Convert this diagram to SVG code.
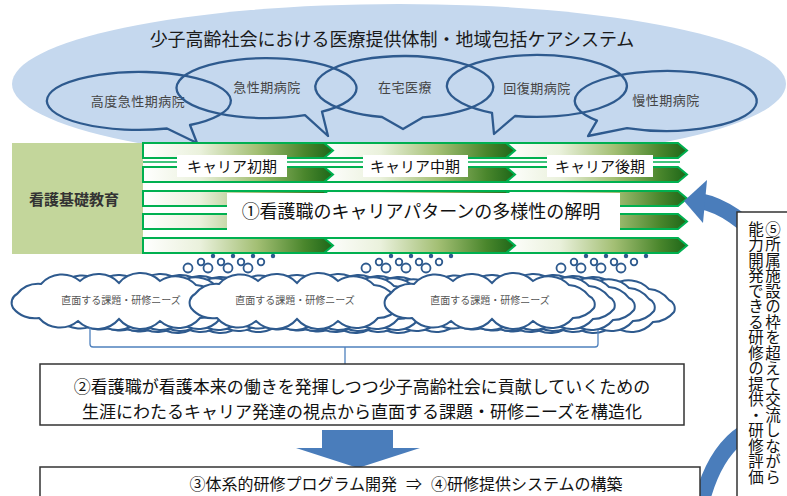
<svg xmlns="http://www.w3.org/2000/svg" width="787" height="496" viewBox="0 0 787 496">
<defs>
<linearGradient id="gr" x1="0" y1="0" x2="1" y2="0">
<stop offset="0" stop-color="#ffffff"/>
<stop offset="0.3" stop-color="#eaf1dc"/>
<stop offset="0.6" stop-color="#a3bf74"/>
<stop offset="0.85" stop-color="#4a862c"/>
<stop offset="1" stop-color="#1d6618"/>
</linearGradient>
<path id="cloud" d="M10,22 A28 28 0 0 1 34,12 A28 28 0 0 1 73,9 A28 28 0 0 1 112,11 A28 28 0 0 1 153,9 A28 28 0 0 1 189,13 A28 28 0 0 1 209,24 A9 9 0 0 1 214,36 A28 28 0 0 1 193,46 A28 28 0 0 1 153,49 A28 28 0 0 1 112,47 A28 28 0 0 1 71,49 A28 28 0 0 1 32,46 A28 28 0 0 1 6,36 A10 10 0 0 1 10,22 Z"/>
<style>
.jp{font-family:"Liberation Sans","Noto Sans CJK JP",sans-serif;}
.bub{fill:none;stroke:#2e5a8e;stroke-width:2.3;stroke-linejoin:round;}
.bt{font-size:13px;fill:#444;letter-spacing:0.5px;text-anchor:middle;dominant-baseline:central;}
.seg{fill:url(#gr);stroke:#00b050;stroke-width:2;}
.lab{fill:#fff;}
.lt{font-size:15px;fill:#111;text-anchor:middle;dominant-baseline:central;}
.cl{fill:#fff;stroke:#2e5a8e;stroke-width:2;}
.dot{fill:#fff;stroke:#2e5a8e;stroke-width:1.8;}
.ct{font-size:10px;fill:#555;text-anchor:middle;dominant-baseline:central;}
.box{fill:#fff;stroke:#333;stroke-width:1.5;}
.blue{fill:#4a7dbb;}
.vt{font-size:15.5px;fill:#111;}
</style>
</defs>

<g id="system">
<ellipse cx="399" cy="84" rx="387" ry="80" fill="#c5d8ee"/>
<text class="jp" x="392" y="40" font-size="18" fill="#1a1a1a" text-anchor="middle" dominant-baseline="central">少子高齢社会における医療提供体制・地域包括ケアシステム</text>
</g>

<g id="bubble1"><path class="bub" d="M167,128.5 A92 29 0 1 1 190,125 L197,143 Z"/><text class="jp bt" x="138" y="101">高度急性期病院</text></g>
<g id="bubble2"><path class="bub" d="M305,115.2 A90 30 0 1 1 322,111.7 L328,136 Z"/><text class="jp bt" x="267" y="87">急性期病院</text></g>
<g id="bubble3"><path class="bub" d="M382,117 A89 31 0 1 1 423,117.3 L403,129 Z"/><text class="jp bt" x="405" y="87">在宅医療</text></g>
<g id="bubble4"><path class="bub" d="M492,112.8 A90 31 0 1 1 515,116 L494,134 Z"/><text class="jp bt" x="537" y="88">回復期病院</text></g>
<g id="bubble5"><path class="bub" d="M597,120.6 A91 30 0 1 1 627,128.1 L588,136 Z"/><text class="jp bt" x="666" y="100">慢性期病院</text></g>

<g id="career-band">
<rect x="12" y="143" width="680" height="112" fill="#fff"/>
<rect x="12" y="143" width="131" height="111" fill="#c3d69b"/>
<text class="jp" x="74" y="199" font-size="15" font-weight="bold" fill="#333" text-anchor="middle" dominant-baseline="central">看護基礎教育</text>
<line x1="143" y1="162" x2="680" y2="162" stroke="#00b050" stroke-width="1.5"/>
<path class="seg" d="M505,143 H678 L687,150.5 L678,158 H505 Z"/>
<path class="seg" d="M323,143 H506 L515,150.5 L506,158 H323 Z"/>
<path class="seg" d="M143,143 H324 L333,150.5 L324,158 H143 Z"/>
<path class="seg" d="M505,167 H678 L687,174.5 L678,182 H505 Z"/>
<path class="seg" d="M323,167 H506 L515,174.5 L506,182 H323 Z"/>
<path class="seg" d="M143,167 H324 L333,174.5 L324,182 H143 Z"/>
<path class="seg" d="M505,191 H678 L687,198.5 L678,206 H505 Z"/>
<path class="seg" d="M323,191 H506 L515,198.5 L506,206 H323 Z"/>
<path class="seg" d="M143,191 H324 L333,198.5 L324,206 H143 Z"/>
<path class="seg" d="M505,214 H678 L687,221.5 L678,229 H505 Z"/>
<path class="seg" d="M323,214 H506 L515,221.5 L506,229 H323 Z"/>
<path class="seg" d="M143,214 H324 L333,221.5 L324,229 H143 Z"/>
<path class="seg" d="M505,238 H678 L687,245.5 L678,253 H505 Z"/>
<path class="seg" d="M323,238 H506 L515,245.5 L506,253 H323 Z"/>
<path class="seg" d="M143,238 H324 L333,245.5 L324,253 H143 Z"/>
</g>
<g id="label-early"><rect class="lab" x="177" y="155" width="110" height="22"/><text class="jp lt" x="232" y="166">キャリア初期</text></g>
<g id="label-mid"><rect class="lab" x="363" y="155" width="105" height="22"/><text class="jp lt" x="415" y="166">キャリア中期</text></g>
<g id="label-late"><rect class="lab" x="547" y="155" width="106" height="22"/><text class="jp lt" x="600" y="166">キャリア後期</text></g>
<g id="step1"><rect x="227" y="193" width="393" height="37" fill="#fff"/><text class="jp" x="421" y="212" font-size="18" fill="#111" text-anchor="middle" dominant-baseline="central">①看護職のキャリアパターンの多様性の解明</text></g>

<g id="thought-dots">
<circle class="dot" cx="188" cy="268" r="4.5"/><circle class="dot" cx="201" cy="262" r="3.3"/><circle cx="213" cy="256" r="2.2" fill="#2e5a8e"/>
<circle class="dot" cx="208" cy="268" r="4.5"/><circle class="dot" cx="221" cy="262" r="3.3"/><circle cx="233" cy="256" r="2.2" fill="#2e5a8e"/>
<circle class="dot" cx="228" cy="268" r="4.5"/><circle class="dot" cx="241" cy="262" r="3.3"/><circle cx="253" cy="256" r="2.2" fill="#2e5a8e"/>
<circle class="dot" cx="248" cy="268" r="4.5"/><circle class="dot" cx="261" cy="262" r="3.3"/><circle cx="273" cy="256" r="2.2" fill="#2e5a8e"/>
<circle class="dot" cx="366" cy="268" r="4.5"/><circle class="dot" cx="379" cy="262" r="3.3"/><circle cx="391" cy="256" r="2.2" fill="#2e5a8e"/>
<circle class="dot" cx="386" cy="268" r="4.5"/><circle class="dot" cx="399" cy="262" r="3.3"/><circle cx="411" cy="256" r="2.2" fill="#2e5a8e"/>
<circle class="dot" cx="406" cy="268" r="4.5"/><circle class="dot" cx="419" cy="262" r="3.3"/><circle cx="431" cy="256" r="2.2" fill="#2e5a8e"/>
<circle class="dot" cx="426" cy="268" r="4.5"/><circle class="dot" cx="439" cy="262" r="3.3"/><circle cx="451" cy="256" r="2.2" fill="#2e5a8e"/>
<circle class="dot" cx="561" cy="268" r="4.5"/><circle class="dot" cx="574" cy="262" r="3.3"/><circle cx="586" cy="256" r="2.2" fill="#2e5a8e"/>
<circle class="dot" cx="581" cy="268" r="4.5"/><circle class="dot" cx="594" cy="262" r="3.3"/><circle cx="606" cy="256" r="2.2" fill="#2e5a8e"/>
<circle class="dot" cx="601" cy="268" r="4.5"/><circle class="dot" cx="614" cy="262" r="3.3"/><circle cx="626" cy="256" r="2.2" fill="#2e5a8e"/>
<circle class="dot" cx="621" cy="268" r="4.5"/><circle class="dot" cx="634" cy="262" r="3.3"/><circle cx="646" cy="256" r="2.2" fill="#2e5a8e"/>
</g>

<g id="cloud1">
<use href="#cloud" class="cl" x="87" y="276"/><use href="#cloud" class="cl" x="67" y="275"/><use href="#cloud" class="cl" x="47" y="274"/><use href="#cloud" class="cl" x="27" y="273"/>
<use href="#cloud" class="cl" x="7" y="272"/>
<text class="jp ct" x="121" y="300">直面する課題・研修ニーズ</text>
</g>
<g id="cloud2">
<use href="#cloud" class="cl" x="265" y="276"/><use href="#cloud" class="cl" x="245" y="275"/><use href="#cloud" class="cl" x="225" y="274"/><use href="#cloud" class="cl" x="205" y="273"/>
<use href="#cloud" class="cl" x="185" y="272"/>
<text class="jp ct" x="295" y="300">直面する課題・研修ニーズ</text>
</g>
<g id="cloud3">
<use href="#cloud" class="cl" x="460" y="276"/><use href="#cloud" class="cl" x="440" y="275"/><use href="#cloud" class="cl" x="420" y="274"/><use href="#cloud" class="cl" x="400" y="273"/>
<use href="#cloud" class="cl" x="380" y="272"/>
<text class="jp ct" x="490" y="300">直面する課題・研修ニーズ</text>
</g>

<g id="connectors">
<path d="M90,327 V344 Q90,347 93,347 H595 Q598,347 598,344 V330 M345,347 V364" fill="none" stroke="#4f81bd" stroke-width="1.3"/>
<path d="M322,430 H393 V448 H420 L358,468 L296,448 H322 Z" class="blue"/>
<path d="M700,201 C745,210 795,265 795,330 C795,385 770,415 738,437 C722,450 710,470 702,500" fill="none" stroke="#4a7dbb" stroke-width="16"/>
<path d="M684,201 L707,180 L703,223 Z" class="blue"/>
</g>

<g id="step2">
<rect class="box" x="40" y="364" width="644" height="61"/>
<text class="jp" x="362" y="387" font-size="17" fill="#111" text-anchor="middle" dominant-baseline="central">②看護職が看護本来の働きを発揮しつつ少子高齢社会に貢献していくための</text>
<text class="jp" x="362" y="412" font-size="17" fill="#111" text-anchor="middle" dominant-baseline="central">生涯にわたるキャリア発達の視点から直面する課題・研修ニーズを構造化</text>
</g>

<g id="step34">
<rect class="box" x="40" y="467" width="660" height="35"/>
<text class="jp" x="406" y="484" font-size="16" fill="#111" text-anchor="middle" dominant-baseline="central">③体系的研修プログラム開発&#160;&#160;⇒&#160;&#160;④研修提供システムの構築</text>
</g>

<g id="step5">
<rect class="box" x="737" y="212" width="60" height="300" stroke-width="1.2"/>
<text class="jp vt" x="771.5" y="221" writing-mode="vertical-rl">⑤所属施設の枠を超えて交流しながら</text>
<text class="jp vt" x="754.5" y="221" writing-mode="vertical-rl">能力開発できる研修の提供・研修評価</text>
</g>
</svg>
